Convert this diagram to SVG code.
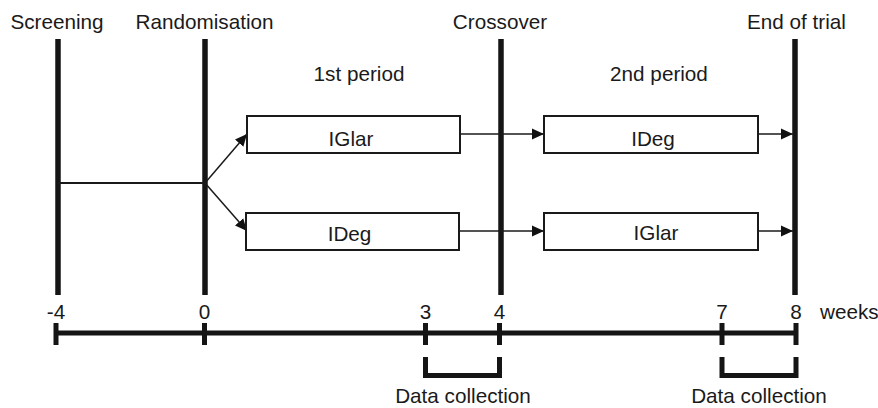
<svg xmlns="http://www.w3.org/2000/svg" width="878" height="408" viewBox="0 0 878 408">
<style>
text{font-family:"Liberation Sans",Arial,sans-serif;font-size:20.7px;fill:#1a1a1a}
.m{text-anchor:middle}
.bar{stroke:#151515;stroke-width:5.5;fill:none}
.box{fill:#fff;stroke:#1a1a1a;stroke-width:2}
.ln{stroke:#1a1a1a;stroke-width:1.5;fill:none}
.ax{stroke:#151515;stroke-width:5;fill:none}
</style>
<defs>
<marker id="ah" viewBox="0 0 12 12" refX="12" refY="6" markerWidth="12" markerHeight="12" markerUnits="userSpaceOnUse" orient="auto">
<path d="M0,0.5 L12,6 L0,11.5 Z" fill="#111"/>
</marker>
</defs>
<g id="milestones">
<g id="screening"><line class="bar" x1="58" y1="39" x2="58" y2="295"/><text class="m" x="57" y="29">Screening</text></g>
<g id="randomisation"><line class="bar" x1="205" y1="39" x2="205" y2="295"/><text class="m" x="204.5" y="29">Randomisation</text></g>
<g id="crossover"><line class="bar" x1="501" y1="39" x2="501" y2="295"/><text class="m" x="500" y="29">Crossover</text></g>
<g id="end"><line class="bar" x1="795" y1="39" x2="795" y2="295"/><text class="m" x="796.5" y="29">End of trial</text></g>
</g>
<text class="m" x="359" y="81">1st period</text>
<text class="m" x="659" y="81">2nd period</text>
<g id="connectors">
<line class="ln" x1="58" y1="183" x2="205" y2="183" style="stroke-width:2"/>
<line class="ln" x1="205" y1="183" x2="247" y2="134" marker-end="url(#ah)"/>
<line class="ln" x1="205" y1="183" x2="247" y2="231" marker-end="url(#ah)"/>
<line class="ln" x1="460" y1="134" x2="544" y2="134" marker-end="url(#ah)"/>
<line class="ln" x1="459" y1="231" x2="544" y2="231" marker-end="url(#ah)"/>
<line class="ln" x1="758" y1="134" x2="793" y2="134" marker-end="url(#ah)"/>
<line class="ln" x1="758" y1="231" x2="793" y2="231" marker-end="url(#ah)"/>
</g>
<g id="box-iglar-1"><rect class="box" x="247" y="116" width="213" height="37"/><text class="m" x="351" y="145.5">IGlar</text></g>
<g id="box-ideg-1"><rect class="box" x="246" y="213" width="213" height="37"/><text class="m" x="349.5" y="241">IDeg</text></g>
<g id="box-ideg-2"><rect class="box" x="544" y="116" width="214" height="37"/><text class="m" x="653" y="145.5">IDeg</text></g>
<g id="box-iglar-2"><rect class="box" x="544" y="213" width="214" height="37"/><text class="m" x="656" y="240">IGlar</text></g>
<g id="axis">
<line class="ax" x1="56" y1="333" x2="796" y2="333"/>
<path class="ax" d="M56,323V345M204.5,323V345M425.5,323V345M499.5,323V345M722,323V345M796,323V345"/>
<text class="m" x="56" y="319">-4</text>
<text class="m" x="204.5" y="319">0</text>
<text class="m" x="425.5" y="319">3</text>
<text class="m" x="499.5" y="319">4</text>
<text class="m" x="722" y="319">7</text>
<text class="m" x="796" y="319">8</text>
<text x="820" y="319">weeks</text>
</g>
<g id="data1"><path class="ax" d="M425.5,357V375.5H499.5V357"/><text class="m" x="463" y="403">Data collection</text></g>
<g id="data2"><path class="ax" d="M722,357V375.5H796V357"/><text class="m" x="759" y="403">Data collection</text></g>
</svg>
